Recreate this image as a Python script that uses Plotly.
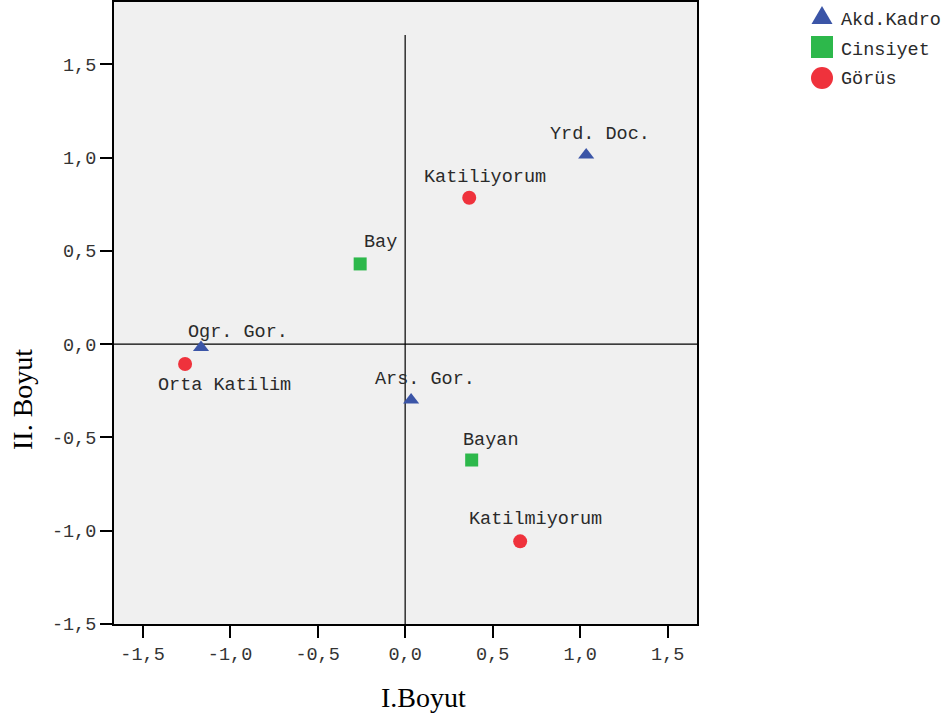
import plotly.graph_objects as go

# ---- data ----
akd_labels = ["Yrd. Doc.", "Ogr. Gor.", "Ars. Gor."]
akd_x = [1.034, -1.166, 0.034]
akd_y = [1.014, -0.018, -0.299]

cins_labels = ["Bay", "Bayan"]
cins_x = [-0.257, 0.380]
cins_y = [0.430, -0.621]

gorus_labels = ["Katiliyorum", "Orta Katilim", "Katilmiyorum"]
gorus_x = [0.366, -1.257, 0.657]
gorus_y = [0.785, -0.106, -1.057]

series_names = ["Akd.Kadro", "Cinsiyet", "Görüs"]

tick_vals = [-1.5, -1.0, -0.5, 0.0, 0.5, 1.0, 1.5]
tick_text = ["-1,5", "-1,0", "-0,5", "0,0", "0,5", "1,0", "1,5"]

# ---- style ----
COLORS = ["#3b55a7", "#2db84b", "#ef323c"]
SYMBOLS = ["triangle-up", "square", "circle"]
SIZES = [14, 13, 14]
akd_off = [(14, 20), (37, 15), (14, 20)]
cins_off = [(20, 21), (19, 20)]
gorus_off = [(16, 20), (39, -22), (15, 22)]

MONO = "Liberation Mono, Courier New, monospace"
SERIF = "Liberation Serif, Times New Roman, serif"

L, R, T, B = 114, 246, 2, 93
W, H = 943, 717
PW, PH = W - L - R, H - T - B


def px_x(px):
    return (px - L) / PW


def px_y(py):
    return (H - B - py) / PH


fig = go.Figure()
for name, xs, ys, c, s, sz in zip(series_names, [akd_x, cins_x, gorus_x],
                                  [akd_y, cins_y, gorus_y], COLORS, SYMBOLS, SIZES):
    fig.add_trace(go.Scatter(x=xs, y=ys, mode="markers", name=name,
                             marker=dict(symbol=s, size=sz, color=c), showlegend=False))

annotations = []
for labels, xs, ys, offs in [(akd_labels, akd_x, akd_y, akd_off),
                             (cins_labels, cins_x, cins_y, cins_off),
                             (gorus_labels, gorus_x, gorus_y, gorus_off)]:
    for lab, x, y, (dx, dy) in zip(labels, xs, ys, offs):
        annotations.append(dict(x=x, y=y, text=lab, showarrow=False,
                                xshift=dx, yshift=dy,
                                font=dict(family=MONO, size=18.5, color="#2a2a2a")))

annotations.append(dict(x=px_x(423), y=px_y(697), xref="paper", yref="paper",
                        text="I.Boyut", showarrow=False, xanchor="center", yanchor="middle",
                        font=dict(family=SERIF, size=28, color="black")))
annotations.append(dict(x=px_x(22), y=px_y(400), xref="paper", yref="paper",
                        text="II. Boyut", textangle=-90, showarrow=False,
                        xanchor="center", yanchor="middle",
                        font=dict(family=SERIF, size=28, color="black")))

# custom legend (bigger symbols, like the reference)
leg_x_marker = 822
leg_x_text = 839
leg_rows = [15, 47, 78]
leg_text_rows = [20, 51, 80]
shapes = [
    dict(type="line", xref="paper", yref="y", x0=0, x1=1, y0=0, y1=0,
         line=dict(color="black", width=1.2), layer="below"),
    dict(type="line", xref="x", yref="y", x0=0, x1=0, y0=-1.5, y1=1.657,
         line=dict(color="black", width=1.2), layer="below"),
]
leg_paths = [
    "M -10.5,-9 L 10.5,-9 L 0,9 Z",
    "M -11,-11 L 11,-11 L 11,11 L -11,11 Z",
    None,
]
for i, (name, c) in enumerate(zip(series_names, COLORS)):
    ya = px_y(leg_rows[i])
    if leg_paths[i] is not None:
        shapes.append(dict(type="path", xref="paper", yref="paper",
                           xsizemode="pixel", ysizemode="pixel",
                           xanchor=px_x(leg_x_marker), yanchor=ya,
                           path=leg_paths[i], fillcolor=c, line=dict(width=0)))
    else:
        shapes.append(dict(type="circle", xref="paper", yref="paper",
                           xsizemode="pixel", ysizemode="pixel",
                           xanchor=px_x(leg_x_marker), yanchor=ya,
                           x0=-11, x1=11, y0=-11, y1=11,
                           fillcolor=c, line=dict(width=0)))
    annotations.append(dict(x=px_x(leg_x_text), y=px_y(leg_text_rows[i]), xref="paper", yref="paper",
                            text=name, showarrow=False, xanchor="left", yanchor="middle",
                            font=dict(family=MONO, size=18.5, color="#2a2a2a")))

fig.update_layout(
    width=W, height=H,
    margin=dict(l=L, r=R, t=T, b=B, autoexpand=False),
    paper_bgcolor="white", plot_bgcolor="#f0f0f0",
    showlegend=False,
    annotations=annotations,
    shapes=shapes,
)
fig.update_xaxes(range=[-1.663, 1.667], tickvals=tick_vals, ticktext=tick_text,
                 ticks="outside", ticklen=12, tickwidth=2, tickcolor="black",
                 showgrid=False, zeroline=False, showline=True, mirror=True,
                 linecolor="black", linewidth=2,
                 tickfont=dict(family=MONO, size=18.5, color="#333"))
fig.update_yaxes(range=[-1.5, 1.834], tickvals=tick_vals, ticktext=tick_text,
                 ticks="outside", ticklen=12, tickwidth=2, tickcolor="black",
                 showgrid=False, zeroline=False, showline=True, mirror=True,
                 linecolor="black", linewidth=2,
                 tickfont=dict(family=MONO, size=18.5, color="#333"))

fig.write_html("out.html", config={"displayModeBar": False},
               post_script="document.body.style.margin='0';document.body.style.overflow='hidden';")
